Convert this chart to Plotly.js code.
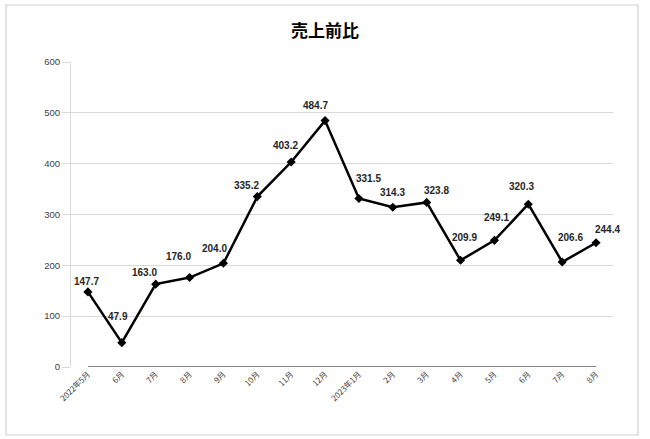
<!DOCTYPE html>
<html>
<head>
<meta charset="utf-8">
<script src="https://cdn.plot.ly/plotly-3.0.1.min.js"></script>
<style>
html,body{margin:0;padding:0;background:#fff;}
#chart{width:650px;height:439px;}
</style>
</head>
<body>
<div id="chart"></div>
<script>
const monthLabels = ["2022年5月","6月","7月","8月","9月","10月","11月","12月","2023年1月","2月","3月","4月","5月","6月","7月","8月"];
const salesRatio = [147.7, 47.9, 163.0, 176.0, 204.0, 335.2, 403.2, 484.7, 331.5, 314.3, 323.8, 209.9, 249.1, 320.3, 206.6, 244.4];
const yTicks = [0, 100, 200, 300, 400, 500, 600];

// label placement offsets in pixels (dx right, dy down) — layout only
const labelOffsets = [[-1,-10],[-4,-26],[-11,-12],[-11,-21],[-9,-15],[-11,-11],[-6,-17],[-10,-15],[10,-20],[0,-15],[10,-12],[4,-23],[2,-23],[-7,-18],[8,-24],[11,-13]];

const xIdx = monthLabels.map((_, i) => i);

const trace = {
  x: xIdx,
  y: salesRatio,
  type: 'scatter',
  mode: 'lines+markers',
  line: {color: '#000000', width: 2.5},
  marker: {symbol: 'diamond', size: 7, color: '#000000'},
  hoverinfo: 'skip',
  showlegend: false
};

const annotations = salesRatio.map((v, i) => ({
  x: xIdx[i], y: v, xref: 'x', yref: 'y',
  text: v.toFixed(1),
  showarrow: false,
  xanchor: 'center', yanchor: 'middle',
  xshift: labelOffsets[i][0], yshift: -labelOffsets[i][1],
  font: {family: 'Liberation Sans, Arial, sans-serif', size: 10, color: '#262626', weight: 'bold'}
}));

const W = 542, H = 305;
const layout = {
  width: 650, height: 439,
  margin: {l: 71, r: 37, t: 62, b: 72, pad: 0},
  paper_bgcolor: '#ffffff',
  plot_bgcolor: '#ffffff',
  title: {
    text: '<b>売上前比</b>',
    x: 0.5, xanchor: 'center',
    y: 1 - 31/439, yanchor: 'middle', yref: 'container',
    font: {family: 'Noto Sans CJK JP, sans-serif', size: 17, color: '#000000'}
  },
  xaxis: {
    range: [-0.5, monthLabels.length - 0.5],
    tickmode: 'array',
    tickvals: xIdx,
    ticktext: monthLabels,
    tickangle: -45,
    showgrid: false,
    zeroline: false,
    showline: false,
    ticks: '',
    tickfont: {family: 'Noto Sans CJK JP, Liberation Sans, sans-serif', size: 8, color: '#404040'},
    fixedrange: true
  },
  yaxis: {
    range: [0, 600],
    tickmode: 'array',
    tickvals: yTicks,
    ticktext: yTicks.map(String),
    showgrid: true,
    gridcolor: '#d9d9d9',
    gridwidth: 1,
    zeroline: false,
    showline: true,
    linecolor: '#d9d9d9',
    linewidth: 1,
    ticks: 'outside',
    ticklen: 8,
    tickcolor: '#d9d9d9',
    tickfont: {family: 'Liberation Sans, Arial, sans-serif', size: 9.5, color: '#404040'},
    fixedrange: true
  },
  shapes: [
    {type: 'rect', xref: 'paper', yref: 'paper',
     x0: (6-71)/W, x1: (638-71)/W, y0: (367-435)/H, y1: (367-5)/H,
     line: {color: '#d0d0d0', width: 1.2}, fillcolor: 'rgba(0,0,0,0)', layer: 'below'},
    {type: 'line', xref: 'x', yref: 'y',
     x0: xIdx[0], x1: xIdx[xIdx.length-1], y0: 0, y1: 0,
     line: {color: '#595959', width: 1.5}, layer: 'above'}
  ],
  annotations: annotations
};

Plotly.newPlot('chart', [trace], layout, {displayModeBar: false, staticPlot: true});
</script>
</body>
</html>
